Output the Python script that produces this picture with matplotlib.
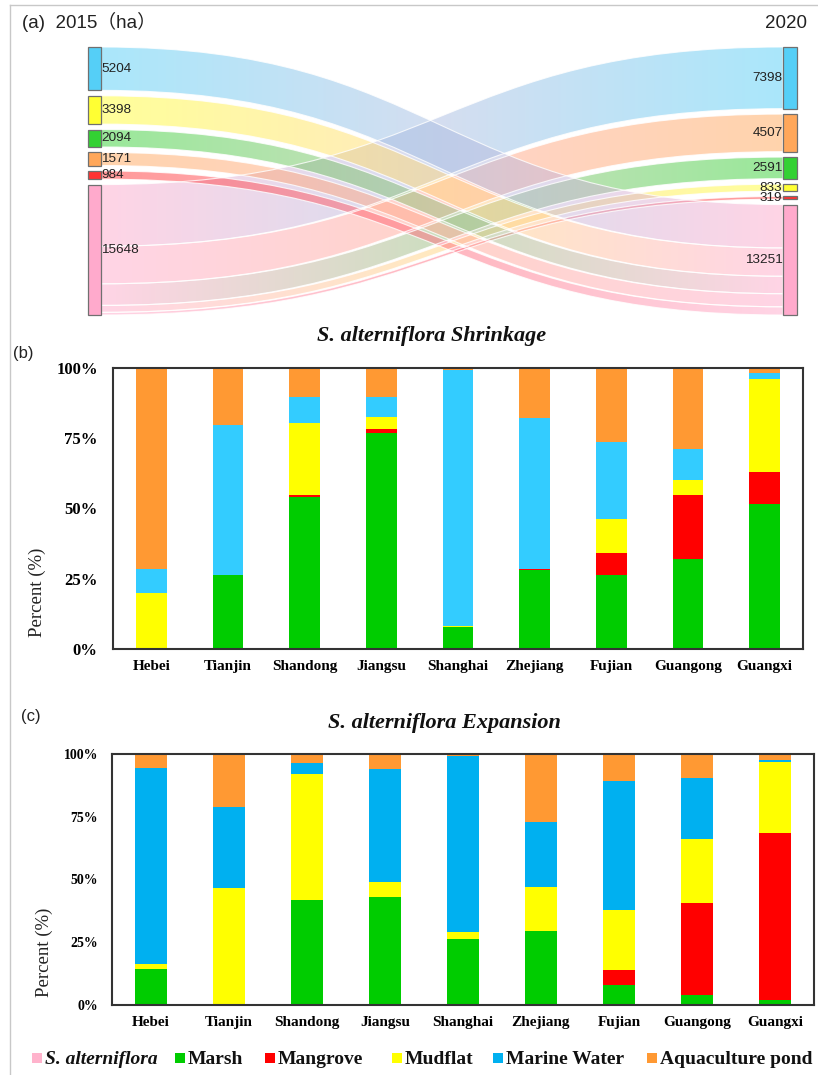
import numpy as np
import matplotlib
matplotlib.use("Agg")
import matplotlib.pyplot as plt
from matplotlib.path import Path
from matplotlib.patches import PathPatch, Rectangle
from matplotlib.lines import Line2D
from matplotlib.colors import to_rgb

# ---------------- data ----------------
nodes_2015 = ["Marine Water", "Mudflat", "Marsh", "Aquaculture pond", "Mangrove", "S. alterniflora"]
area_2015 = [5204, 3398, 2094, 1571, 984, 15648]
nodes_2020 = ["Marine Water", "Aquaculture pond", "Marsh", "Mudflat", "Mangrove", "S. alterniflora"]
area_2020 = [7398, 4507, 2591, 833, 319, 13251]

flow_src = ["S. alterniflora"] * 5 + ["Marine Water", "Mudflat", "Marsh", "Aquaculture pond", "Mangrove"]
flow_dst = ["Marine Water", "Aquaculture pond", "Marsh", "Mudflat", "Mangrove"] + ["S. alterniflora"] * 5
flow_val = [7398, 4507, 2591, 833, 319, 5204, 3398, 2094, 1571, 984]

provinces = ["Hebei", "Tianjin", "Shandong", "Jiangsu", "Shanghai", "Zhejiang", "Fujian", "Guangong", "Guangxi"]
classes = ["Marsh", "Mangrove", "Mudflat", "Marine Water", "Aquaculture pond"]

shrink_marsh    = [0.0, 26.5, 54.2, 76.9, 8.0, 28.0, 26.5, 31.9, 51.6]
shrink_mangrove = [0.0, 0.0, 0.5, 1.5, 0.0, 0.4, 7.7, 23.0, 11.4]
shrink_mudflat  = [20.0, 0.0, 25.7, 4.3, 0.3, 0.0, 12.2, 5.1, 33.1]
shrink_marine   = [8.6, 53.1, 9.4, 7.1, 91.0, 53.7, 27.3, 11.3, 2.1]
shrink_aqua     = [71.4, 20.4, 10.2, 10.2, 0.7, 17.9, 26.3, 28.7, 1.8]

expand_marsh    = [14.5, 0.0, 41.8, 42.9, 26.3, 29.5, 8.0, 4.0, 1.9]
expand_mangrove = [0.0, 0.0, 0.0, 0.0, 0.0, 0.0, 5.8, 36.5, 66.6]
expand_mudflat  = [2.0, 46.7, 50.2, 6.0, 2.9, 17.5, 24.2, 25.6, 28.4]
expand_marine   = [78.1, 32.2, 4.4, 45.3, 70.0, 26.0, 51.1, 24.5, 0.7]
expand_aqua     = [5.4, 21.1, 3.6, 5.8, 0.8, 27.0, 10.9, 9.4, 2.4]

# ---------------- style ----------------
node_colors = {
    "Marine Water": "#55cff7",
    "Mudflat": "#ffff33",
    "Marsh": "#33d133",
    "Aquaculture pond": "#ffa75a",
    "Mangrove": "#ff3333",
    "S. alterniflora": "#ffaacc",
}
shrink_colors = ["#00cc00", "#ff0000", "#ffff00", "#33ccff", "#ff9933"]
expand_colors = ["#00cc00", "#ff0000", "#ffff00", "#00b0f0", "#ff9933"]
legend_colors = ["#ffb3cc", "#00cc00", "#ff0000", "#ffff00", "#00b0f0", "#ff9933"]

SERIF = "Liberation Serif"
SANS = ["Liberation Sans", "Noto Sans CJK SC", "DejaVu Sans"]

W, H = 818, 1075
fig = plt.figure(figsize=(W / 100, H / 100), dpi=100)


def fx(x):
    return x / W


def fy(y):
    return 1 - y / H


# outer light frame
fig.add_artist(Line2D([fx(9.5), 1.0], [fy(5), fy(5)], color="#c8c8c8", lw=1.0))
fig.add_artist(Line2D([fx(9.5), fx(9.5)], [fy(5), 0.0], color="#c8c8c8", lw=1.0))

# ---------------- (a) sankey ----------------
ax_a = fig.add_axes([0, fy(330), 1, 330 / H])
ax_a.set_axis_off()
gap = 650.0
total = sum(area_2015)
span_px = 268.0
s = span_px / (total + 5 * gap)  # px per ha
top_ha = 47.0 / s
ax_a.set_xlim(0, W)
ax_a.set_ylim(330.0 / s, 0)

xl0, xl1 = 88, 101
xr0, xr1 = 783, 797


def stack(values):
    pos = []
    y = top_ha
    for v in values:
        pos.append([y, y + v])
        y += v + gap
    return pos


pos15 = dict(zip(nodes_2015, stack(area_2015)))
pos20 = dict(zip(nodes_2020, stack(area_2020)))
out_cursor = {k: v[0] for k, v in pos15.items()}
in_cursor = {k: v[0] for k, v in pos20.items()}

order_out = sorted(range(len(flow_val)), key=lambda i: (nodes_2015.index(flow_src[i]), nodes_2020.index(flow_dst[i])))
seg_src = {}
for i in order_out:
    a0 = out_cursor[flow_src[i]]
    seg_src[i] = (a0, a0 + flow_val[i])
    out_cursor[flow_src[i]] += flow_val[i]
order_in = sorted(range(len(flow_val)), key=lambda i: (nodes_2020.index(flow_dst[i]), nodes_2015.index(flow_src[i])))
seg_dst = {}
for i in order_in:
    b0 = in_cursor[flow_dst[i]]
    seg_dst[i] = (b0, b0 + flow_val[i])
    in_cursor[flow_dst[i]] += flow_val[i]

xm = (xl1 + xr0) / 2.0
for i in range(len(flow_val)):
    a0, a1 = seg_src[i]
    b0, b1 = seg_dst[i]
    verts = [(xl1, a0), (xm, a0), (xm, b0), (xr0, b0),
             (xr0, b1), (xm, b1), (xm, a1), (xl1, a1), (xl1, a0)]
    codes = [Path.MOVETO, Path.CURVE4, Path.CURVE4, Path.CURVE4,
             Path.LINETO, Path.CURVE4, Path.CURVE4, Path.CURVE4, Path.CLOSEPOLY]
    path = Path(verts, codes)
    patch = PathPatch(path, facecolor="none", edgecolor="none")
    ax_a.add_patch(patch)
    c0 = np.array(to_rgb(node_colors[flow_src[i]]))
    c1 = np.array(to_rgb(node_colors[flow_dst[i]]))
    t = np.linspace(0, 1, 256)
    grad = np.zeros((2, 256, 4))
    grad[:, :, :3] = (c0[None, :] * (1 - t[:, None]) + c1[None, :] * t[:, None])[None, :, :]
    grad[:, :, 3] = 0.5
    ymin = min(a0, b0)
    ymax = max(a1, b1)
    im = ax_a.imshow(grad, extent=(xl1, xr0, ymax, ymin), aspect="auto",
                     interpolation="bilinear", zorder=1)
    im.set_clip_path(patch)
    edge = PathPatch(path, facecolor="none", edgecolor="white", lw=0.8, alpha=0.8, zorder=2)
    ax_a.add_patch(edge)

for name, v in zip(nodes_2015, area_2015):
    y0, y1 = pos15[name]
    ax_a.add_patch(Rectangle((xl0, y0), xl1 - xl0, y1 - y0, facecolor=node_colors[name],
                             edgecolor="#707070", lw=0.9, zorder=3))
    ax_a.text(xl1 + 0.5, (y0 + y1) / 2, str(v), ha="left", va="center",
              fontsize=9.7, family=SANS, color="#222222", zorder=4)
for name, v in zip(nodes_2020, area_2020):
    y0, y1 = pos20[name]
    ax_a.add_patch(Rectangle((xr0, y0), xr1 - xr0, y1 - y0, facecolor=node_colors[name],
                             edgecolor="#707070", lw=0.9, zorder=3))
    ax_a.text(xr0 - 0.5, (y0 + y1) / 2, str(v), ha="right", va="center",
              fontsize=9.7, family=SANS, color="#222222", zorder=4)

fig.text(fx(22), fy(22), "(a)  2015（ha）", ha="left", va="center", fontsize=13.5, family=SANS, color="#222222")
fig.text(fx(807), fy(24), "2020", ha="right", va="center", fontsize=13.5, family=SANS, color="#222222")


# ---------------- bar panels ----------------
def bar_panel(rect, series, colors, title, title_y, title_x, letter, letter_xy,
              ytick_fs, ytick_pad, ylabel_xy):
    left, top, right, bottom = rect
    ax = fig.add_axes([fx(left), fy(bottom), (right - left) / W, (bottom - top) / H])
    x = np.arange(len(provinces))
    bottom_v = np.zeros(len(provinces))
    for vals, col in zip(series, colors):
        vals = np.array(vals)
        ax.bar(x, vals, 0.4, bottom=bottom_v, color=col, edgecolor="none", linewidth=0)
        bottom_v = bottom_v + vals
    ax.set_xlim(-0.5, len(provinces) - 0.5)
    ax.set_ylim(0, 100)
    ax.set_yticks([0, 25, 50, 75, 100])
    ax.set_yticklabels(["0%", "25%", "50%", "75%", "100%"], family=SERIF,
                       fontweight="bold", fontsize=ytick_fs)
    ax.set_xticks(x)
    ax.set_xticklabels(provinces, family=SERIF, fontweight="bold", fontsize=11)
    ax.tick_params(axis="both", length=0)
    ax.tick_params(axis="y", pad=ytick_pad)
    ax.tick_params(axis="x", pad=8)
    for sp in ax.spines.values():
        sp.set_linewidth(1.5)
        sp.set_color("#333333")
    fig.text(fx(title_x), fy(title_y), title, ha="center", va="center", family=SERIF,
             fontweight="bold", fontstyle="italic", fontsize=16, color="#111111")
    fig.text(fx(letter_xy[0]), fy(letter_xy[1]), letter, ha="left", va="center",
             fontsize=12, family=SANS, color="#222222")
    fig.text(fx(ylabel_xy[0]), fy(ylabel_xy[1]), "Percent (%)", rotation=90, ha="center",
             va="center", family=SERIF, fontsize=13.5, color="#222222")
    return ax


bar_panel((113, 368, 803, 649),
          [shrink_marsh, shrink_mangrove, shrink_mudflat, shrink_marine, shrink_aqua],
          shrink_colors, "S. alterniflora Shrinkage", 336, 432, "(b)", (13, 353), 12, 11, (37, 592))
bar_panel((112, 754, 814, 1005),
          [expand_marsh, expand_mangrove, expand_mudflat, expand_marine, expand_aqua],
          expand_colors, "S. alterniflora Expansion", 723, 444, "(c)", (21, 717), 10, 10, (44, 952))

# ---------------- legend ----------------
legend_labels = ["S. alterniflora", "Marsh", "Mangrove", "Mudflat", "Marine Water", "Aquaculture pond"]
sq_x = [32, 175, 265, 392, 493, 647]
for lab, col, sx in zip(legend_labels, legend_colors, sq_x):
    fig.add_artist(Rectangle((fx(sx), fy(1063)), 10 / W, 10 / H, facecolor=col,
                             edgecolor="none", transform=fig.transFigure))
    fig.text(fx(sx + 13), fy(1059), lab, ha="left", va="center", family=SERIF,
             fontweight="bold", fontsize=14,
             fontstyle="italic" if lab.startswith("S.") else "normal", color="#111111")

fig.savefig("out.png", dpi=100)
